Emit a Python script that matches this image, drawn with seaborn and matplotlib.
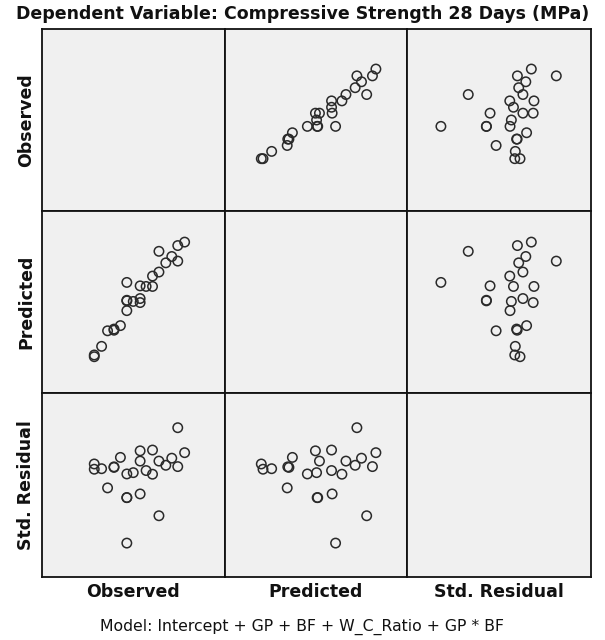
import matplotlib
matplotlib.use("Agg")
import matplotlib.pyplot as plt
import seaborn as sns
import pandas as pd

observed = [21.5, 21.5, 23.1, 24.4, 25.8, 25.8, 27.2, 28.6, 28.6, 28.6, 28.6, 30.0, 31.5,
            31.5, 31.5, 32.8, 34.2, 34.2, 35.6, 35.6, 37.1, 38.4, 39.7, 39.7, 41.2]
predicted = [21.6, 21.3, 23.1, 25.8, 25.9, 26.1, 26.7, 34.2, 31.1, 31.0, 29.3, 30.9, 33.6,
             31.4, 30.7, 33.5, 33.5, 35.3, 39.6, 36.0, 37.6, 38.7, 37.9, 40.6, 41.2]
std_residual = [0.10, 0.30, 0.12, -0.61, 0.19, 0.17, 0.55, -2.71, -0.98, -0.98, -0.08, -0.03, -0.84,
                0.41, 0.80, 0.05, 0.83, -0.09, -1.67, 0.41, 0.25, 0.52, 1.68, 0.20, 0.73]

var_names = ["Observed", "Predicted", "Std. Residual"]
title_text = "Dependent Variable: Compressive Strength 28 Days (MPa)"
footer_text = "Model: Intercept + GP + BF + W_C_Ratio + GP * BF"

df = pd.DataFrame({"Observed": observed, "Predicted": predicted, "Std. Residual": std_residual})
limits = {"Observed": (10, 50), "Predicted": (15, 46.6), "Std. Residual": (-4, 3)}

sns.set_style("white")
plt.rcParams["font.family"] = ["DejaVu Sans"]

W, H = 605, 640
fig = plt.figure(figsize=(W / 100, H / 100), dpi=100)

x_edges = [41.5, 225, 407, 591]
y_edges = [29, 211, 393, 577]

for r, yv in enumerate(var_names):
    for c, xv in enumerate(var_names):
        x0, x1 = x_edges[c], x_edges[c + 1]
        y0, y1 = y_edges[r], y_edges[r + 1]
        ax = fig.add_axes([x0 / W, 1 - y1 / H, (x1 - x0) / W, (y1 - y0) / H])
        ax.set_facecolor("#F0F0F0")
        if r != c:
            sns.scatterplot(data=df, x=xv, y=yv, ax=ax, marker="o", s=46,
                            facecolors="none", edgecolor="#2a2a2a", linewidth=1.1,
                            legend=False)
        ax.set_xlim(*limits[xv])
        ax.set_ylim(*limits[yv])
        ax.set_xticks([])
        ax.set_yticks([])
        ax.set_xlabel("")
        ax.set_ylabel("")
        for sp in ax.spines.values():
            sp.set_visible(True)
            sp.set_color("#111111")
            sp.set_linewidth(1.3)

for i, name in enumerate(var_names):
    cx = (x_edges[i] + x_edges[i + 1]) / 2
    fig.text(cx / W, 1 - 592 / H, name, ha="center", va="center",
             fontsize=12.5, fontweight="bold", color="#111111")
    cy = (y_edges[i] + y_edges[i + 1]) / 2
    fig.text(26.5 / W, 1 - cy / H, name, ha="center", va="center", rotation=90,
             fontsize=12.5, fontweight="bold", color="#111111")

fig.text(0.5, 1 - 14 / H, title_text, ha="center", va="center",
         fontsize=12.5, fontweight="bold", color="#111111")
fig.text(0.5, 1 - 627 / H, footer_text, ha="center", va="center",
         fontsize=11.3, color="#111111")

fig.savefig("out.png", dpi=100, facecolor="white")
